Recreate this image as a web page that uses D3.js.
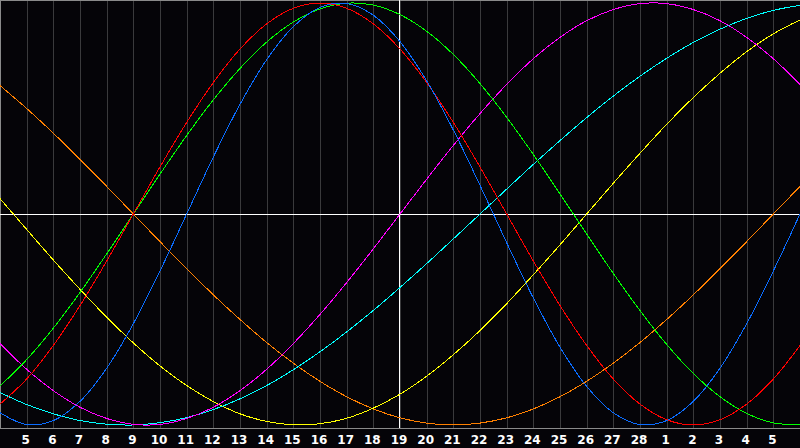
<!DOCTYPE html>
<html>
<head>
<meta charset="utf-8">
<script src="https://cdn.jsdelivr.net/npm/d3@7"></script>
<style>
  html, body { margin: 0; padding: 0; background: #050408; }
  svg { display: block; }
</style>
</head>
<body>
<svg id="chart" width="800" height="448"></svg>
<script>
// offsets in days from today (19th), one sample per day
var offsets = d3.range(-15, 16)
var dayLabels = [5, 6, 7, 8, 9, 10, 11, 12, 13, 14, 15, 16, 17, 18, 19, 20, 21, 22, 23, 24, 25, 26, 27, 28, 1, 2, 3, 4, 5]
var todayOffset = 0

// values in percent
var physical = [-94.2, -99.8, -97.9, -88.8, -73.1, -52.0, -27.0, 0, 27.0, 52.0, 73.1, 88.8, 97.9, 99.8, 94.2, 81.7, 63.1, 39.8, 13.6, -13.6, -39.8, -63.1, -81.7, -94.2, -99.8, -97.9, -88.8, -73.1, -52.0, -27.0, 0]
var emotional = [-90.1, -78.2, -62.3, -43.4, -22.3, 0, 22.3, 43.4, 62.3, 78.2, 90.1, 97.5, 100, 97.5, 90.1, 78.2, 62.3, 43.4, 22.3, 0, -22.3, -43.4, -62.3, -78.2, -90.1, -97.5, -100, -97.5, -90.1, -78.2, -62.3]
var intellectual = [-81.5, -69.0, -54.1, -37.2, -18.9, 0, 18.9, 37.2, 54.1, 69.0, 81.5, 91.0, 97.2, 99.9, 99.0, 94.5, 86.6, 75.6, 61.8, 45.8, 28.2, 9.5, -9.5, -28.2, -45.8, -61.8, -75.6, -86.6, -94.5, -99.0, -99.9]
var intuitive = [-61.4, -73.6, -83.7, -91.6, -96.9, -99.7, -99.7, -96.9, -91.6, -83.7, -73.6, -61.4, -47.6, -32.5, -16.5, 0, 16.5, 32.5, 47.6, 61.4, 73.6, 83.7, 91.6, 96.9, 99.7, 99.7, 96.9, 91.6, 83.7, 73.6, 61.4]
var aesthetic = [7.3, -7.3, -21.8, -35.7, -48.9, -61.1, -72.0, -81.3, -88.9, -94.7, -98.3, -99.9, -99.4, -96.8, -92.0, -85.4, -76.9, -66.7, -55.2, -42.5, -28.8, -14.6, 0, 14.6, 28.8, 42.5, 55.2, 66.7, 76.9, 85.4, 92.0]
var awareness = [60.9, 50, 38.3, 25.9, 13.1, 0, -13.1, -25.9, -38.3, -50, -60.9, -70.7, -79.3, -86.6, -92.4, -96.6, -99.1, -100, -99.1, -96.6, -92.4, -86.6, -79.3, -70.7, -60.9, -50, -38.3, -25.9, -13.1, 0, 13.1]
var spiritual = [-84.6, -90.3, -94.7, -97.9, -99.6, -100, -98.9, -96.5, -92.7, -87.6, -81.3, -73.8, -65.3, -55.9, -45.7, -34.8, -23.5, -11.8, 0, 11.8, 23.5, 34.8, 45.7, 55.9, 65.3, 73.8, 81.3, 87.6, 92.7, 96.5, 98.9]

var series = [
  { name: "awareness", values: awareness, color: "#ff8000" },
  { name: "aesthetic", values: aesthetic, color: "#ffff00" },
  { name: "spiritual", values: spiritual, color: "#00ffff" },
  { name: "intuitive", values: intuitive, color: "#ff00ff" },
  { name: "intellectual", values: intellectual, color: "#00ff00" },
  { name: "emotional", values: emotional, color: "#ff0000" },
  { name: "physical", values: physical, color: "#0a6cff" }
]

var svg = d3.select("#chart")
var plotBottom = 428

var x = d3.scaleLinear().domain([-15, 15]).range([0, 800])
var y = d3.scaleLinear().domain([-100, 100]).range([425, 3])

// day grid
var gridOffsets = d3.range(-14, 15)
svg.append("g")
  .selectAll("line")
  .data(gridOffsets)
  .join("line")
  .attr("x1", d => Math.round(x(d)) + 0.5)
  .attr("x2", d => Math.round(x(d)) + 0.5)
  .attr("y1", 0)
  .attr("y2", plotBottom)
  .attr("stroke", "#3a3a3c")
  .attr("shape-rendering", "crispEdges")

// frame: top, left, bottom
svg.append("path")
  .attr("d", "M0.5," + plotBottom + "V0.5H800M0," + (plotBottom + 0.5) + "H800")
  .attr("fill", "none")
  .attr("stroke", "#8a8a8a")
  .attr("shape-rendering", "crispEdges")

// zero line and today line
svg.append("line")
  .attr("x1", 0).attr("x2", 800)
  .attr("y1", Math.round(y(0)) + 0.5).attr("y2", Math.round(y(0)) + 0.5)
  .attr("stroke", "#ffffff")
  .attr("shape-rendering", "crispEdges")
svg.append("line")
  .attr("x1", Math.round(x(todayOffset)) - 0.5).attr("x2", Math.round(x(todayOffset)) - 0.5)
  .attr("y1", 0).attr("y2", plotBottom)
  .attr("stroke", "#ffffff")
  .attr("shape-rendering", "crispEdges")

// cycles
var line = d3.line()
  .x((d, i) => x(offsets[i]))
  .y(d => y(d))
  .curve(d3.curveCatmullRom)

svg.append("g")
  .selectAll("path")
  .data(series)
  .join("path")
  .attr("d", d => line(d.values))
  .attr("fill", "none")
  .attr("stroke", d => d.color)
  .attr("stroke-width", 1)
  .attr("shape-rendering", "crispEdges")

// day labels
svg.append("g")
  .selectAll("text")
  .data(dayLabels)
  .join("text")
  .attr("x", (d, i) => x(gridOffsets[i]) - 1)
  .attr("y", 444)
  .attr("text-anchor", "middle")
  .attr("fill", "#ffffff")
  .style("font-family", "'DejaVu Sans', sans-serif")
  .style("font-weight", "bold")
  .style("font-size", "12px")
  .text(d => d)
</script>
</body>
</html>
